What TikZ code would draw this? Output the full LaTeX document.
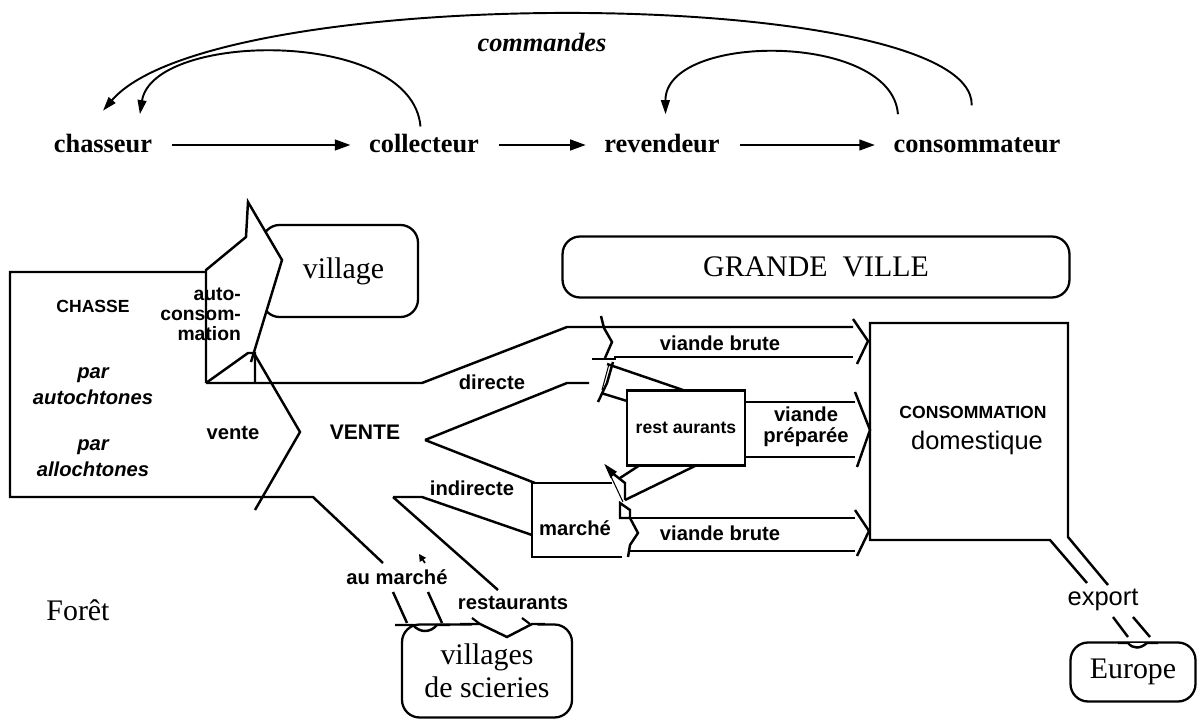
\documentclass[tikz,border=0pt]{standalone}
\usepackage{fontspec}
\setmainfont{Liberation Serif}
\setsansfont{Liberation Sans}
\usepackage{tikz}
\usetikzlibrary{arrows.meta}

\begin{document}
\begin{tikzpicture}[x=0.02cm,y=-0.02cm,
		actor/.style={font=\bfseries\fontsize{15}{18}\selectfont,text height=11pt,text depth=3pt},
		flow/.style={line width=1.5pt,-{Triangle[length=9pt,width=6pt]},shorten <=8pt,shorten >=7pt},
		order/.style={line width=1.1pt,-{Triangle[length=8pt,width=5pt]}},
		band/.style={line width=1.4pt,line join=miter},
		place/.style={draw,line width=1.3pt,rounded corners=10pt,font=\fontsize{17}{18.5}\selectfont,align=center},
		lab/.style={font=\sffamily\bfseries\fontsize{11.5}{12.5}\selectfont,align=center,inner sep=1pt},
		who/.style={font=\sffamily\bfseries\itshape\fontsize{11.5}{15}\selectfont,align=center,inner sep=1pt}]

			\useasboundingbox (0,0) rectangle (1197,723);

			% filiere
			\node[actor] (chasseur) at (103,145) {chasseur};
			\node[actor] (collecteur) at (424,145) {collecteur};
			\node[actor] (revendeur) at (662,145) {revendeur};
			\node[actor] (consommateur) at (977,145) {consommateur};
			\node[font=\bfseries\itshape\fontsize{15}{18}\selectfont] (commandes) at (542,42) {commandes};

			\draw[flow] (chasseur) -- (collecteur);
			\draw[flow] (collecteur) -- (revendeur);
			\draw[flow] (revendeur) -- (consommateur);

			\draw[order] ([xshift=-3pt,yshift=12pt]consommateur.north) .. controls (975,-14) and (215,-20) .. ([yshift=9pt]chasseur.north);
			\draw[order] ([xshift=-2pt]collecteur.north) .. controls (412,28) and (153,31) .. ([xshift=21pt,yshift=7pt]chasseur.north);
			\draw[order] ([xshift=-45pt,yshift=7pt]consommateur.north) .. controls (892,32) and (665,32) .. ([xshift=2pt,yshift=7pt]revendeur.north);

			% village et autoconsommation
			\node[place,minimum width=3.12cm,minimum height=1.84cm] (village) at (340,271) {\hspace{4pt}village};
			\draw[band,fill=white] (206,383) -- (206,270) -- (246,237) -- (248,202) -- (282,260) -- (251,362);
			\draw[band] (206,383) -- (248,353) -- (255,353) -- (255,383);

			% chasse et vente
			\draw[band] (206,272) -- (10,272) -- (10,497) -- (313,497) -- (383,563);
			\draw[band] (206,383) -- (422,383) -- (567,327) -- (853,327);
			\draw[band] (255,355) -- (300,432) -- (255,510);
			\draw[band] (425,440) -- (567,383) -- (589,383);
			\draw[band] (425,440) -- (535,483);
			\draw[band] (393,497) -- (422,497) -- (532,535);
			\draw[band] (393,497) -- (498,590);
			\draw[band] (393,592) -- (407,623);
			\draw[band] (428,592) -- (442,623);
			\draw[line width=1pt,-{Triangle[length=4pt,width=4pt]}] (425,563) -- (419,554);

			\node[font=\sffamily\bfseries\fontsize{10}{12}\selectfont] (chasse) at (93,306) {CHASSE};
			\node[who] (autochtones) at (93,386) {par\\autochtones};
			\node[who] (allochtones) at (93,458) {par\\allochtones};
			\node[lab,align=right,anchor=east,font=\sffamily\bfseries\fontsize{11}{11.3}\selectfont] (auto) at (243,314) {auto-\\consom-\\mation};
			\node[lab] (vente) at (233,433) {vente};
			\node[lab,font=\sffamily\bfseries\fontsize{12}{14}\selectfont] (VENTE) at (365,432) {VENTE};
			\node[lab] (directe) at (492,382) {directe};
			\node[lab] (indirecte) at (472,488) {indirecte};
			\node[lab] (aumarche) at (397,577) {au march\'e};
			\node[lab] (restaus) at (513,603) {restaurants};

			% villages de scieries
			\node[place,minimum width=3.4cm,minimum height=1.86cm] (scieries) at (487,671) {villages\\de scieries};
			\draw[band] (395,625) -- (413,625) .. controls (420,633) and (430,633) .. (437,625) -- (450,625);
			\fill[white] (462,621) -- (546,621) -- (507,641) -- cycle;
			\draw[band] (460,624) -- (480,624) -- (507,637) -- (532,624) -- (545,624);
			\draw[line width=1.2pt] (472,618) -- (480,624);
			\draw[line width=1.2pt] (522,618) -- (530,624);

			% grande ville
			\node[place,minimum width=10.14cm,minimum height=1.22cm] (ville) at (816,267) {GRANDE\ \ VILLE};

			\draw[band] (601,316) -- (604,328) -- (612,342) -- (605,358);
			\draw[band] (592,359) -- (616,359);
			\draw[band] (613,362) -- (607,383) -- (598,402);
			\draw[line width=0.6pt] (609,364) -- (602,390);
			\draw[band] (614,357) -- (853,357);
			\draw[band] (853,319) -- (868,341) -- (857,364);

			\node[draw,line width=1.3pt,minimum width=2.36cm,minimum height=1.5cm,font=\sffamily\bfseries\fontsize{10}{12}\selectfont] (resto) at (686,428) {rest aurants};
			\draw[band] (607,364) -- (683,390);
			\draw[band] (601,393) -- (627,401);
			\draw[band] (640,465) -- (620,478);
			\draw[band] (697,465) -- (625,500);
			\draw[band] (745,402) -- (855,402);
			\draw[band] (745,457) -- (855,457);
			\draw[band] (855,392) -- (870,430) -- (857,467);

			\draw[band] (612,483) -- (532,483) -- (532,557) -- (622,557);
			\draw[band,fill=black] (607,467) -- (615,472) -- (611,476) -- cycle;
			\draw[band] (611,472) -- (625,483) -- (625,500);
			\draw[line width=0.6pt] (607,468) -- (623,502);
			\draw[band] (620,503) -- (630,510) -- (630,518) -- (620,518) -- cycle;
			\draw[band] (630,518) -- (638,533) -- (630,545) -- (628,557);
			\draw[band] (630,518) -- (855,518);
			\draw[band] (630,551) -- (855,551);
			\draw[band] (855,510) -- (869,531) -- (857,556);

			\node[lab] (marche) at (575,528) {march\'e};
			\node[lab] (brute1) at (720,343) {viande brute};
			\node[lab,font=\sffamily\bfseries\fontsize{11.5}{12}\selectfont] (preparee) at (806,427) {viande\\pr\'epar\'ee};
			\node[lab] (brute2) at (720,533) {viande brute};

			% consommation et export
			\draw[band] (1087,583) -- (1050,540) -- (870,540) -- (870,323) -- (1068,323) -- (1068,537) -- (1108,585);
			\node[font=\sffamily\bfseries\fontsize{10}{12}\selectfont] (conso) at (973,412) {CONSOMMATION};
			\node[font=\sffamily\fontsize{14.5}{16}\selectfont] (domestique) at (977,443) {domestique};
			\node[font=\sffamily\fontsize{14.5}{16}\selectfont] (export) at (1103,600) {export};
			\draw[band] (1113,617) -- (1128,637);
			\draw[band] (1133,617) -- (1150,637);
			\node[place,minimum width=2.5cm,minimum height=1.18cm] (europe) at (1133,672) {Europe};
			\draw[band,fill=white] (1118,643) -- (1128,643) .. controls (1133,649) and (1140,649) .. (1147,643) -- (1158,643);

			\node[font=\fontsize{17}{19}\selectfont] (foret) at (78,610) {For\^et};
		\end{tikzpicture}
\end{document}
